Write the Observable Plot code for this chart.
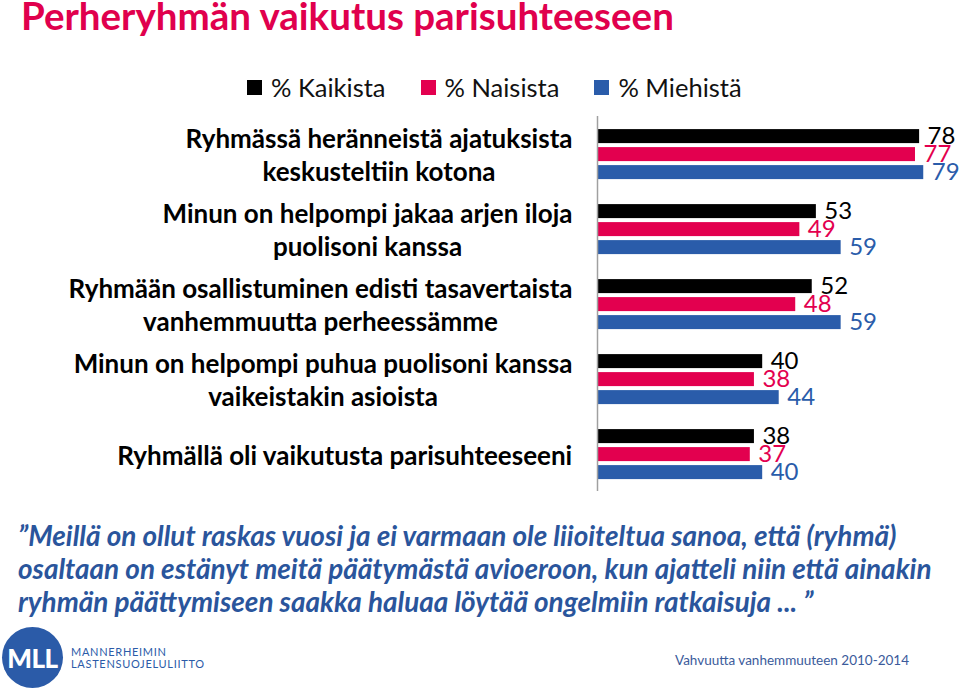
<!DOCTYPE html>
<html><head><meta charset="utf-8">
<script src="https://cdn.jsdelivr.net/npm/d3@7"></script>
<script src="https://cdn.jsdelivr.net/npm/@observablehq/plot@0.6"></script>
<style>
body{margin:0;background:#fff;}
#wrap{position:relative;width:960px;height:691px;overflow:hidden;font-family:Lato,"Noto Sans",sans-serif;}
#chart{position:absolute;left:0;top:0;}
#title{position:absolute;left:21px;top:-4px;font-size:38.5px;line-height:38px;font-weight:bold;color:#e0004d;white-space:nowrap;}
#legend{position:absolute;left:247px;top:72px;display:flex;align-items:center;font-size:25.5px;color:#111;white-space:nowrap;}
#legend .item{display:flex;align-items:center;margin-right:35px;}
#legend .sw{width:15px;height:15px;margin-right:9px;}
#quote{position:absolute;left:18px;top:519px;font-size:27.9px;line-height:33px;font-weight:bold;font-style:italic;color:#2a559c;white-space:pre;}
#logo{position:absolute;left:2px;top:627px;width:61px;height:61px;border-radius:50%;background:#2b5ba8;color:#fff;font-weight:900;font-size:26px;display:flex;align-items:center;justify-content:center;letter-spacing:-0.5px;}
#org{position:absolute;left:71px;top:646px;font-size:11px;line-height:12px;letter-spacing:0.7px;color:#2b5ba8;white-space:pre;}
#footer{position:absolute;left:675px;top:652px;font-size:13.5px;color:#3b5b9b;white-space:nowrap;}
</style></head><body>
<div id="wrap">
<div id="chart"></div>
<div id="title"></div>
<div id="legend"></div>
<div id="quote"></div>
<div id="logo">MLL</div>
<div id="org">MANNERHEIMIN
LASTENSUOJELULIITTO</div>
<div id="footer"></div>
</div>
<script>
const titleText = "Perheryhmän vaikutus parisuhteeseen";
const categories = [
  "Ryhmässä heränneistä ajatuksista keskusteltiin kotona",
  "Minun on helpompi jakaa arjen iloja puolisoni kanssa",
  "Ryhmään osallistuminen edisti tasavertaista vanhemmuutta perheessämme",
  "Minun on helpompi puhua puolisoni kanssa vaikeistakin asioista",
  "Ryhmällä oli vaikutusta parisuhteeseeni"
];
const categoryLabels = [
  "Ryhmässä heränneistä ajatuksista\nkeskusteltiin kotona",
  "Minun on helpompi jakaa arjen iloja\npuolisoni kanssa",
  "Ryhmään osallistuminen edisti tasavertaista\nvanhemmuutta perheessämme",
  "Minun on helpompi puhua puolisoni kanssa\nvaikeistakin asioista",
  "Ryhmällä oli vaikutusta parisuhteeseeni"
];
const series = ["% Kaikista", "% Naisista", "% Miehistä"];
const kaikista = [78, 53, 52, 40, 38];
const naisista = [77, 49, 48, 38, 37];
const miehista = [79, 59, 59, 44, 40];
const colors = ["#000000", "#e3004f", "#2a5caa"];
const quoteLines = [
  "”Meillä on ollut raskas vuosi ja ei varmaan ole liioiteltua sanoa, että (ryhmä)",
  "osaltaan on estänyt meitä päätymästä avioeroon, kun ajatteli niin että ainakin",
  "ryhmän päättymiseen saakka haluaa löytää ongelmiin ratkaisuja ... ”"
];
const footerText = "Vahvuutta vanhemmuuteen 2010-2014";

const valuesBySeries = [kaikista, naisista, miehista];
const rows = [];
categories.forEach((c, i) => series.forEach((s, j) => rows.push({category: c, series: s, value: valuesBySeries[j][i]})));

document.getElementById("title").textContent = titleText;
document.getElementById("quote").textContent = quoteLines.join("\n");
document.getElementById("footer").textContent = footerText;
const leg = document.getElementById("legend");
series.forEach((s, j) => {
  const it = document.createElement("div"); it.className = "item";
  const sw = document.createElement("div"); sw.className = "sw"; sw.style.background = colors[j];
  const t = document.createElement("span"); t.textContent = s;
  it.appendChild(sw); it.appendChild(t); leg.appendChild(it);
});

const labelSize = 26;
const labelFont = `bold ${labelSize}px Lato`;
const ctx = document.createElement("canvas").getContext("2d");
ctx.font = labelFont;
const labelMarks = categories.map((c, i) => {
  const lines = categoryLabels[i].split("\n");
  const w = Math.max(...lines.map(l => ctx.measureText(l).width));
  return Plot.text([c], {
    fy: d => d, text: () => categoryLabels[i], frameAnchor: "left", textAnchor: "middle",
    dx: -25 - w / 2, fontSize: labelSize, fontWeight: "bold", lineHeight: 33 / labelSize, fill: "#000"
  });
});

const H = 691;
const plot = Plot.plot({
  width: 960, height: H,
  marginLeft: 597, marginRight: 0, marginTop: 115.9, marginBottom: H - 491.9,
  style: {fontFamily: "Lato", background: "transparent", overflow: "visible"},
  x: {domain: [0, 87.9], axis: null},
  fy: {domain: categories, padding: 0, axis: null},
  y: {domain: series, paddingInner: 0.24, paddingOuter: 0.6, axis: null},
  color: {domain: series, range: colors},
  marks: [
    Plot.barX(rows, {fy: "category", y: "series", x: "value", fill: "series"}),
    Plot.text(rows, {fy: "category", y: "series", x: "value", text: d => String(d.value), dx: 8, textAnchor: "start", fill: "series", fontSize: 24}),
    Plot.ruleX([0], {stroke: "#a0a0a0", strokeWidth: 1.5}),
    ...labelMarks
  ]
});
document.getElementById("chart").appendChild(plot);
</script>
</body></html>
